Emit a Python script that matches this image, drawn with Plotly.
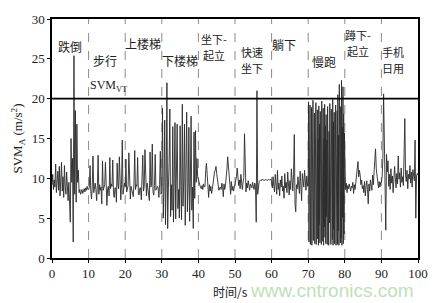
import numpy as np
import plotly.graph_objects as go

# ---- data: SVM_A (m/s^2) per activity segment, 10 s each ----
seg_starts = [0, 10, 20, 30, 40, 50, 60, 70, 80, 90]
fall_vals = [9.2, 10.5, 8.6, 9.8, 8.9, 11.8, 8.2, 9.4, 10.9, 8.5,
             11.5, 7.8, 9.6, 12.0, 8.4, 10.2, 7.6, 11.6, 9.0, 8.0,
             10.8, 8.8, 7.2, 9.5, 6.8, 4.5, 15.0, 9.5, 12.5, 2.0,
             25.4, 8.0, 18.5, 7.0, 16.8, 9.5, 11.0, 8.2, 8.6, 8.0,
             8.3, 8.6, 8.1, 8.4, 8.7, 8.3, 8.8, 8.5, 9.0, 8.6]
walk_vals = [8.6, 8.9, 11.6, 8.4, 7.4, 9.0, 12.8, 8.2, 8.8, 9.4,
             8.6, 7.2, 9.1, 12.9, 8.0, 9.2, 8.5, 8.9, 6.8, 12.2,
             8.5, 9.1, 9.2, 12.0, 8.3, 6.6, 8.7, 9.0, 7.8, 12.6,
             8.7, 9.3, 9.0, 12.3, 8.1, 7.6, 8.8, 8.8, 7.0, 11.9,
             9.1, 8.7, 12.7, 8.4, 7.3, 9.2, 14.8, 8.0, 8.5, 9.4]
upstairs_vals = [8.9, 12.4, 8.3, 8.8, 9.1, 13.2, 8.5, 7.4, 9.0, 8.6,
                 8.2, 7.7, 9.3, 13.5, 8.6, 9.2, 9.0, 12.6, 8.0, 7.9,
                 8.8, 8.8, 7.3, 9.2, 12.9, 8.4, 9.0, 13.6, 8.7, 7.8,
                 9.4, 8.6, 8.1, 7.2, 13.3, 8.9, 9.1, 14.3, 8.3, 7.9,
                 9.1, 13.0, 8.5, 8.9, 9.0, 8.8, 7.6, 9.2, 13.4, 8.0]
downstairs_vals = [8.5, 18.8, 5.0, 9.0, 17.3, 4.2, 9.5, 22.0, 3.7, 8.8,
                   12.0, 18.7, 5.2, 9.2, 6.0, 16.5, 4.5, 10.0, 17.0, 4.9,
                   9.3, 16.8, 6.2, 8.6, 5.0, 16.6, 9.0, 4.8, 19.3, 6.5,
                   9.8, 16.8, 4.1, 10.0, 18.3, 5.8, 8.7, 16.4, 4.6, 9.5,
                   17.8, 6.0, 8.9, 3.7, 15.8, 7.5, 16.0, 9.5, 12.5, 10.2]
sitstand_vals = [9.8, 9.2, 9.0, 8.8, 8.7, 9.1, 8.6, 9.3, 8.9, 9.0,
                 11.0, 11.9, 10.5, 8.0, 7.6, 9.2, 8.4, 9.0, 8.1, 8.6,
                 9.5, 10.2, 10.8, 11.0, 11.5, 10.6, 9.8, 9.0, 8.5, 8.8,
                 8.9, 8.6, 9.4, 9.0, 7.7, 9.3, 8.6, 9.1, 10.0, 11.2,
                 12.7, 11.0, 10.1, 9.2, 8.0, 9.6, 8.5, 9.0, 8.4, 8.8]
fastsit_vals = [9.0, 9.6, 10.2, 11.3, 10.4, 9.1, 9.8, 8.7, 10.5, 9.2,
                8.6, 9.5, 10.1, 15.6, 9.0, 8.3, 9.4, 8.8, 9.7, 9.1,
                8.5, 9.3, 9.0, 8.8, 9.5, 9.2, 8.6, 9.4, 9.0, 4.5,
                21.0, 8.0, 9.3, 9.6, 9.7, 9.8, 9.7, 9.9, 9.8, 9.8,
                9.7, 9.8, 9.9, 9.8, 9.7, 9.8, 9.9, 9.8, 9.8, 9.9]
lying_vals = [9.6, 8.8, 10.2, 9.0, 8.3, 10.5, 9.2, 8.0, 11.0, 8.6,
              9.4, 7.8, 9.8, 8.9, 10.3, 8.4, 9.0, 7.5, 10.6, 8.8,
              9.5, 8.2, 10.8, 9.1, 7.9, 9.7, 8.6, 11.2, 9.0, 8.4,
              10.5, 15.5, 6.8, 5.8, 9.2, 8.7, 10.2, 9.5, 8.1, 10.9,
              9.3, 7.2, 10.6, 9.6, 8.9, 11.0, 9.8, 8.5, 10.3, 9.0]
jog_vals = [9.5, 19.6, 2.0, 15.8, 3.5, 19.2, 1.7, 17.4, 5.0, 18.9,
            1.6, 14.6, 3.8, 19.8, 2.2, 16.3, 4.6, 18.2, 1.8, 15.2,
            3.0, 19.5, 1.7, 17.0, 5.6, 18.6, 2.4, 14.9, 1.6, 19.1,
            4.2, 16.8, 1.9, 18.4, 3.3, 15.5, 1.7, 19.7, 4.9, 17.2,
            2.1, 18.8, 1.6, 15.0, 3.9, 19.3, 2.6, 16.6, 1.8, 18.0,
            5.2, 14.8, 1.7, 19.0, 3.1, 17.6, 1.6, 15.9, 4.4, 19.4,
            2.0, 16.2, 1.7, 18.7, 5.8, 15.3, 2.3, 19.9, 1.6, 17.1,
            3.6, 18.3, 1.8, 15.6, 4.7, 19.2, 1.6, 16.9, 2.8, 18.5,
            1.7, 20.5, 3.4, 15.4, 1.6, 21.8, 4.1, 17.8, 1.9, 19.0,
            2.5, 22.3, 1.6, 16.4, 5.1, 21.5, 1.8, 18.1, 3.0, 15.7]
squat_vals = [9.0, 8.6, 9.4, 8.2, 9.1, 8.7, 9.3, 8.9, 8.4, 9.0,
              8.8, 9.5, 8.1, 9.2, 8.6, 9.4, 10.6, 11.3, 12.1, 10.2,
              11.0, 10.4, 9.2, 9.8, 8.7, 9.1, 8.2, 9.6, 7.8, 8.9,
              9.7, 8.6, 6.8, 9.3, 8.4, 9.8, 9.0, 8.5, 10.4, 9.2,
              10.8, 12.0, 13.7, 11.2, 10.0, 9.4, 8.8, 9.6, 8.9, 9.5]
phone_vals = [9.5, 10.2, 12.5, 20.6, 14.0, 11.5, 3.5, 13.0, 10.8, 12.2,
              9.0, 10.5, 8.6, 11.2, 9.4, 10.3, 8.2, 9.8, 11.5, 10.1,
              8.8, 10.6, 9.3, 12.8, 9.9, 10.7, 8.9, 11.3, 9.5, 10.2,
              9.1, 13.0, 17.5, 10.4, 9.6, 11.0, 8.7, 10.5, 9.9, 11.6,
              9.4, 10.8, 8.9, 11.1, 10.0, 9.7, 14.8, 5.0, 10.3, 10.6]
segments = [fall_vals, walk_vals, upstairs_vals, downstairs_vals, sitstand_vals,
            fastsit_vals, lying_vals, jog_vals, squat_vals, phone_vals]

threshold = 20
activity_labels = [["跌倒"], ["步行"], ["上楼梯"], ["下楼梯"], ["坐下-", "起立"],
                   ["快速", "坐下"], ["躺下"], ["慢跑"], ["蹲下-", "起立"], ["手机", "日用"]]
label_x = [4.9, 14.6, 24.9, 35.0, 44.3, 54.7, 63.4, 74.3, 83.7, 93.2]
label_y = [26.6, 24.8, 26.9, 24.8, 26.5, 24.8, 26.8, 24.7, 27.0, 24.8]
line_gap = 2.0
x_ticks = [0, 10, 20, 30, 40, 50, 60, 70, 80, 90, 100]
y_ticks = [0, 5, 10, 15, 20, 25, 30]
boundaries = [10, 20, 30, 40, 50, 60, 70, 80, 90]

t_all, v_all = [], []
for start, vals in zip(seg_starts, segments):
    n = len(vals)
    t_all.extend(start + np.arange(n) * 10.0 / n)
    v_all.extend(vals)
t_all.append(100.0)
v_all.append(10.4)

fig = go.Figure()
fig.add_trace(go.Scatter(x=t_all, y=v_all, mode="lines",
                         line=dict(color="#2a2a2a", width=0.9), showlegend=False))

for b in boundaries:
    fig.add_shape(type="line", x0=b, x1=b, y0=0, y1=30, xref="x", yref="y",
                  line=dict(color="#8a8a8a", width=1, dash="dash"), layer="below")
fig.add_shape(type="line", x0=0, x1=100, y0=threshold, y1=threshold, xref="x", yref="y",
              line=dict(color="black", width=1.6))

cjk = "Noto Sans CJK SC"
for lines, lx, ly in zip(activity_labels, label_x, label_y):
    n = len(lines)
    size = 12 if n == 1 else 11
    for k, txt in enumerate(lines):
        yy = ly + (n - 1) * line_gap / 2 - k * line_gap
        fig.add_annotation(x=lx, y=yy, xref="x", yref="y", text=txt, borderpad=0,
                           showarrow=False, font=dict(family=cjk, size=size, color="#222"))

fig.add_annotation(x=15.3, y=21.6, xref="x", yref="y", text="SVM<sub>VT</sub>",
                   showarrow=False, font=dict(family="Liberation Serif", size=12, color="#222"))

fig.add_annotation(x=0.542, y=-0.14, xref="paper", yref="paper", text="时间/s",
                   showarrow=False, xanchor="right", yanchor="middle",
                   font=dict(family=cjk, size=12, color="#222"))
fig.add_annotation(x=0.535, y=-0.137, xref="paper", yref="paper", text="www.cntronics.com",
                   showarrow=False, xanchor="left", yanchor="middle",
                   font=dict(family="Liberation Sans", size=19, color="#bfe0b8"))

axis_font = dict(family="Liberation Serif", size=13, color="#222")
fig.update_xaxes(range=[0, 100], tickvals=x_ticks, showgrid=False, zeroline=False,
                 showline=True, linecolor="black", linewidth=1.5, mirror=True,
                 ticks="outside", ticklen=3, tickcolor="black", tickfont=axis_font)
fig.update_yaxes(range=[0, 30], tickvals=y_ticks, showgrid=False, zeroline=False,
                 showline=True, linecolor="black", linewidth=1.5, mirror=True,
                 ticks="outside", ticklen=3, tickcolor="black", tickfont=axis_font,
                 title=dict(text="SVM<sub>A</sub> (m/s<sup>2</sup>)",
                            font=dict(family="Liberation Serif", size=13, color="#222"),
                            standoff=6))
fig.update_layout(width=440, height=303, margin=dict(l=52, r=19, t=14, b=45),
                  plot_bgcolor="white", paper_bgcolor="white")
fig.write_html("out.html")
